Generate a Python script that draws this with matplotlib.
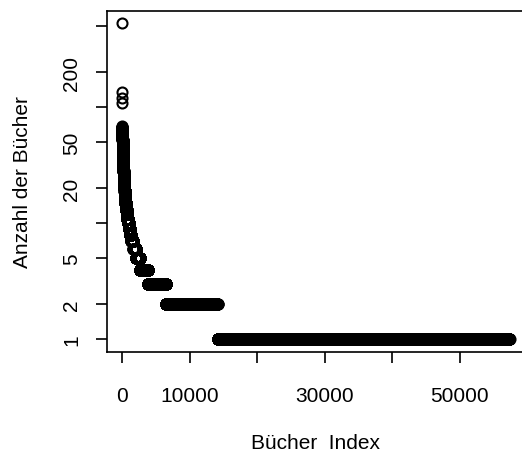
import numpy as np
import matplotlib
matplotlib.use('Agg')
import matplotlib.pyplot as plt
from matplotlib.ticker import NullLocator, FixedLocator

plt.rcParams['font.family'] = ['Liberation Sans', 'DejaVu Sans']

# Anzahl (Wert) und wie viele Bücher diesen Wert haben, absteigend sortiert
werte = [530, 136, 121, 108,
         69, 68, 67, 66, 65, 64, 63, 62, 61, 60,
         59, 58, 57, 56, 55, 54, 53, 52, 51, 50,
         49, 48, 47, 46, 45, 44, 43, 42, 41, 40,
         39, 38, 37, 36, 35, 34, 33, 32, 31, 30,
         29, 28, 27, 26, 25, 24, 23, 22, 21, 20,
         19, 18, 17, 16, 15, 14, 13, 12, 11, 10,
         9, 8, 7, 6, 5, 4, 3, 2, 1]
haeufigkeit = [1, 1, 1, 1,
               1, 3, 4, 3, 4, 4, 4, 4, 4, 4,
               5, 5, 5, 5, 5, 5, 5, 5, 5, 5,
               5, 5, 5, 5, 5, 5, 4, 4, 4, 5,
               5, 6, 6, 6, 6, 7, 8, 8, 9, 9,
               10, 11, 13, 13, 14, 16, 18, 20, 22, 25,
               28, 31, 37, 42, 49, 57, 68, 85, 105, 130,
               170, 230, 300, 360, 610, 1230, 2600, 7650, 43250]

x_ticks = [0, 10000, 20000, 30000, 40000, 50000]
x_labels = ['0', '10000', '', '30000', '', '50000']
y_ticks = [1, 2, 5, 10, 20, 50, 100, 200, 500]
y_labels = ['1', '2', '5', '', '20', '50', '', '200', '']

y = np.repeat(werte, haeufigkeit)
x = np.arange(1, len(y) + 1)

W, H = 522, 460
fig = plt.figure(figsize=(W / 100, H / 100), dpi=100)
ax = fig.add_axes([106.5 / W, 1 - 353 / H, (525 - 106.5) / W, (353 - 11.7) / H])

ax.plot(x, y, linestyle='none', marker='o', markersize=7.2,
        markerfacecolor='none', markeredgecolor='black', markeredgewidth=1.5)

ax.set_yscale('log')
# R-style 4% range extension
xr = x.max() - x.min()
ax.set_xlim(x.min() - 0.04 * xr, x.max() + 0.04 * xr)
ly = np.log10([y.min(), y.max()])
lr = ly[1] - ly[0]
ax.set_ylim(10 ** (ly[0] - 0.04 * lr), 10 ** (ly[1] + 0.04 * lr))

ax.xaxis.set_major_locator(FixedLocator(x_ticks))
ax.set_xticklabels(x_labels)
ax.yaxis.set_major_locator(FixedLocator(y_ticks))
ax.yaxis.set_minor_locator(NullLocator())
ax.set_yticklabels(y_labels, rotation=90, va='center')

ax.tick_params(axis='both', direction='out', length=8, width=1.2,
               labelsize=15, color='black')
ax.tick_params(axis='x', pad=16.5)
ax.tick_params(axis='y', pad=10)
for s in ax.spines.values():
    s.set_linewidth(1.2)

ax.set_xlabel('Bücher  Index', fontsize=15, labelpad=20)
ax.set_ylabel('Anzahl der Bücher', fontsize=15, labelpad=22)

fig.savefig('out.png', dpi=100)
